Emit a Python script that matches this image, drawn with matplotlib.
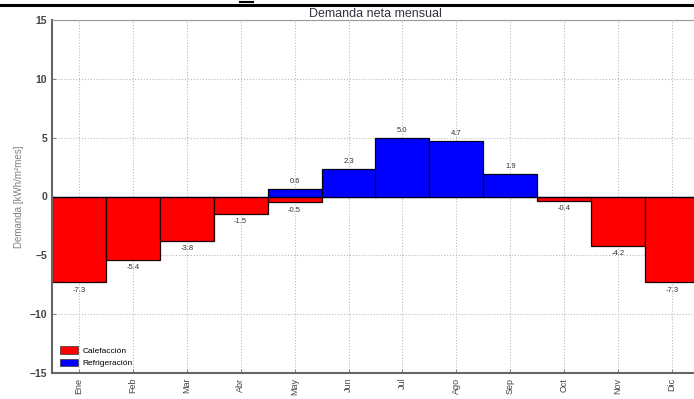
import matplotlib
matplotlib.use("Agg")
import matplotlib.pyplot as plt
from matplotlib.lines import Line2D
from matplotlib.patches import Patch
import numpy as np

plt.rcParams['font.family'] = ['Liberation Sans', 'DejaVu Sans']

months = ['Ene', 'Feb', 'Mar', 'Abr', 'May', 'Jun', 'Jul', 'Ago', 'Sep', 'Oct', 'Nov', 'Dic']
calefaccion = [-7.3, -5.4, -3.8, -1.5, -0.5, 0.0, 0.0, 0.0, 0.0, -0.4, -4.2, -7.3]
refrigeracion = [0.0, 0.0, 0.0, 0.0, 0.6, 2.3, 5.0, 4.7, 1.9, 0.0, 0.0, 0.0]
yticks = [-15, -10, -5, 0, 5, 10, 15]

W, H = 694, 399
fig = plt.figure(figsize=(W / 100, H / 100), dpi=100)
ax = fig.add_axes([52 / W, 26 / H, 647 / W, 353 / H])

x = np.arange(len(months))
ax.bar(x, calefaccion, width=1.0, color='#ff0000', edgecolor='#1a0000', linewidth=0.9, zorder=2)
ax.bar(x, refrigeracion, width=1.0, color='#0000ff', edgecolor='#00001a', linewidth=0.9, zorder=2)

for xi, v in zip(x, calefaccion):
    if v != 0:
        ax.annotate(f'{v:.1f}', (xi, v), xytext=(0, -3), textcoords='offset points',
                    ha='center', va='top', fontsize=5.5, color='#333333')
for xi, v in zip(x, refrigeracion):
    if v != 0:
        ax.annotate(f'{v:.1f}', (xi, v), xytext=(0, 3), textcoords='offset points',
                    ha='center', va='bottom', fontsize=5.5, color='#333333')

ax.set_xlim(-0.5, len(months) - 0.5)
ax.set_ylim(-15, 15)
ax.set_yticks(yticks)
ax.set_yticklabels([str(t).replace('-', '\u2212') for t in yticks], fontsize=7.5,
                   fontweight='bold', color='#444444')
ax.set_xticks(x)
ax.set_xticklabels(months, rotation=90, fontsize=6.5, color='#444444')
ax.tick_params(axis='both', direction='in', length=3, color='#888888')
ax.grid(True, linestyle=':', color='#bbbbbb', linewidth=0.8, zorder=0)
ax.set_axisbelow(True)

ax.spines['left'].set_color('#666666')
ax.spines['left'].set_linewidth(1.5)
ax.spines['bottom'].set_color('#666666')
ax.spines['bottom'].set_linewidth(1.5)
ax.spines['top'].set_color('#999999')
ax.spines['right'].set_visible(False)

ax.set_ylabel('Demanda [kWh/m\u00b2mes]', fontsize=7, color='#808080', labelpad=4)
ax.set_title('Demanda neta mensual', fontsize=9, color='#333344', pad=1)

handles = [Patch(facecolor='#ff0000', edgecolor='#333333', linewidth=0.5, label='Calefacción'),
           Patch(facecolor='#0000ff', edgecolor='#333333', linewidth=0.5, label='Refrigeración')]
ax.legend(handles=handles, loc='lower left', frameon=False, fontsize=6, handlelength=2.2,
          handleheight=1.0, labelspacing=0.45, handletextpad=0.6, bbox_to_anchor=(0.0, -0.005))

fig.add_artist(Line2D([0, 1], [1 - 5 / H, 1 - 5 / H], color='black', linewidth=2.2))
fig.add_artist(Line2D([240 / W, 253 / W], [1 - 1.5 / H, 1 - 1.5 / H], color='black', linewidth=1.5))

fig.savefig('out.png', dpi=100)
